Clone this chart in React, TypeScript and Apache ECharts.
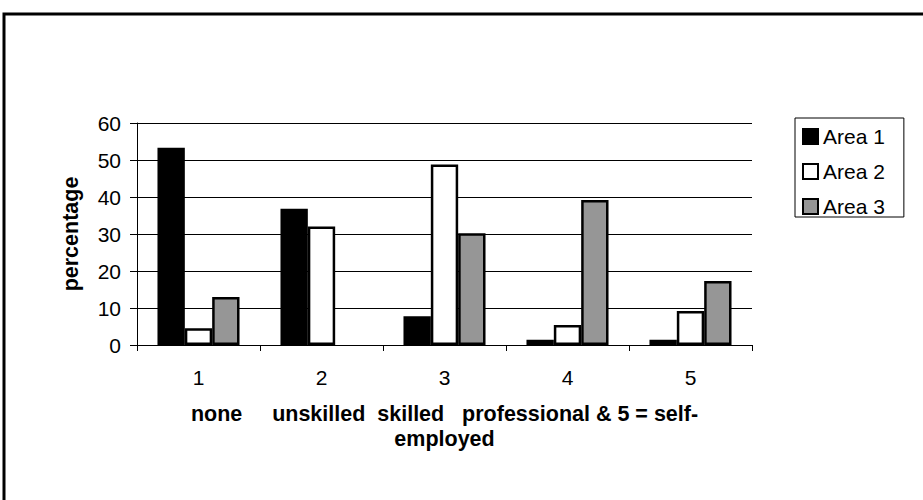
import React, { useEffect, useRef } from "react";
import * as echarts from "echarts";

const categories = ["1", "2", "3", "4", "5"];
const seriesNames = ["Area 1", "Area 2", "Area 3"];
const area1 = [53.3, 36.8, 7.8, 1.4, 1.4];
const area2 = [4.5, 32.0, 48.8, 5.4, 9.2];
const area3 = [13.0, 0, 30.2, 39.2, 17.3];
const yTicks = { min: 0, max: 60, interval: 10 };
const xTitle = "none     unskilled  skilled   professional & 5 = self-\nemployed";
const yTitle = "percentage";

const FONT = "'Liberation Sans', Arial, sans-serif";

export default function App() {
  const ref = useRef<HTMLDivElement>(null);
  useEffect(() => {
    document.body.style.margin = "0";
    if (!ref.current) return;
    const chart = echarts.init(ref.current, undefined, { renderer: "svg" });
    const fills = ["#000000", "#ffffff", "#969696"];
    const values = [area1, area2, area3];
    chart.setOption({
      animation: false,
      backgroundColor: "#ffffff",
      textStyle: { fontFamily: FONT, color: "#000" },
      graphic: [
        {
          type: "rect",
          shape: { x: 4, y: 14, width: 1000, height: 1000 },
          style: { fill: "none", stroke: "#000", lineWidth: 3 },
          silent: true,
        },
      ],
      grid: { left: 137, right: 171, top: 123, bottom: 155 },
      legend: {
        data: seriesNames,
        orient: "vertical",
        left: 795,
        top: 118,
        itemWidth: 15,
        itemHeight: 15,
        itemGap: 14,
        padding: [8, 19, 0, 7],
        borderColor: "#000",
        borderWidth: 1,
        backgroundColor: "#fff",
        icon: "rect",
        textStyle: { fontFamily: FONT, fontSize: 21, color: "#000", lineHeight: 18 },
      },
      xAxis: {
        type: "category",
        data: categories,
        axisLine: { show: true, lineStyle: { color: "#000", width: 1 } },
        axisTick: { show: true, length: 6, lineStyle: { color: "#000" } },
        axisLabel: { fontFamily: FONT, fontSize: 21, color: "#000", margin: 22 },
        name: xTitle,
        nameLocation: "middle",
        nameGap: 56,
        nameTextStyle: {
          fontFamily: FONT,
          fontSize: 21.5,
          fontWeight: "bold",
          color: "#000",
          lineHeight: 25,
          align: "center",
        },
      },
      yAxis: {
        type: "value",
        min: yTicks.min,
        max: yTicks.max,
        interval: yTicks.interval,
        axisLine: { show: true, lineStyle: { color: "#000", width: 1 } },
        axisTick: { show: true, length: 7, lineStyle: { color: "#000" } },
        axisLabel: { fontFamily: FONT, fontSize: 21, color: "#000", margin: 16 },
        splitLine: { show: true, lineStyle: { color: "#000", width: 1 } },
        name: yTitle,
        nameLocation: "middle",
        nameGap: 55,
        nameRotate: 90,
        nameTextStyle: { fontFamily: FONT, fontSize: 21.5, fontWeight: "bold", color: "#000" },
      },
      series: seriesNames.map((name, i) => ({
        name,
        type: "bar",
        data: values[i].map((v) => (v === 0 ? { value: v, itemStyle: { borderWidth: 0 } } : v)),
        barGap: "0%",
        barCategoryGap: "33.3%",
        itemStyle: { color: fills[i], borderColor: "#000", borderWidth: 2.5 },
        emphasis: { disabled: true },
      })),
    });
    return () => chart.dispose();
  }, []);
  return <div ref={ref} style={{ width: 923, height: 500 }} />;
}
